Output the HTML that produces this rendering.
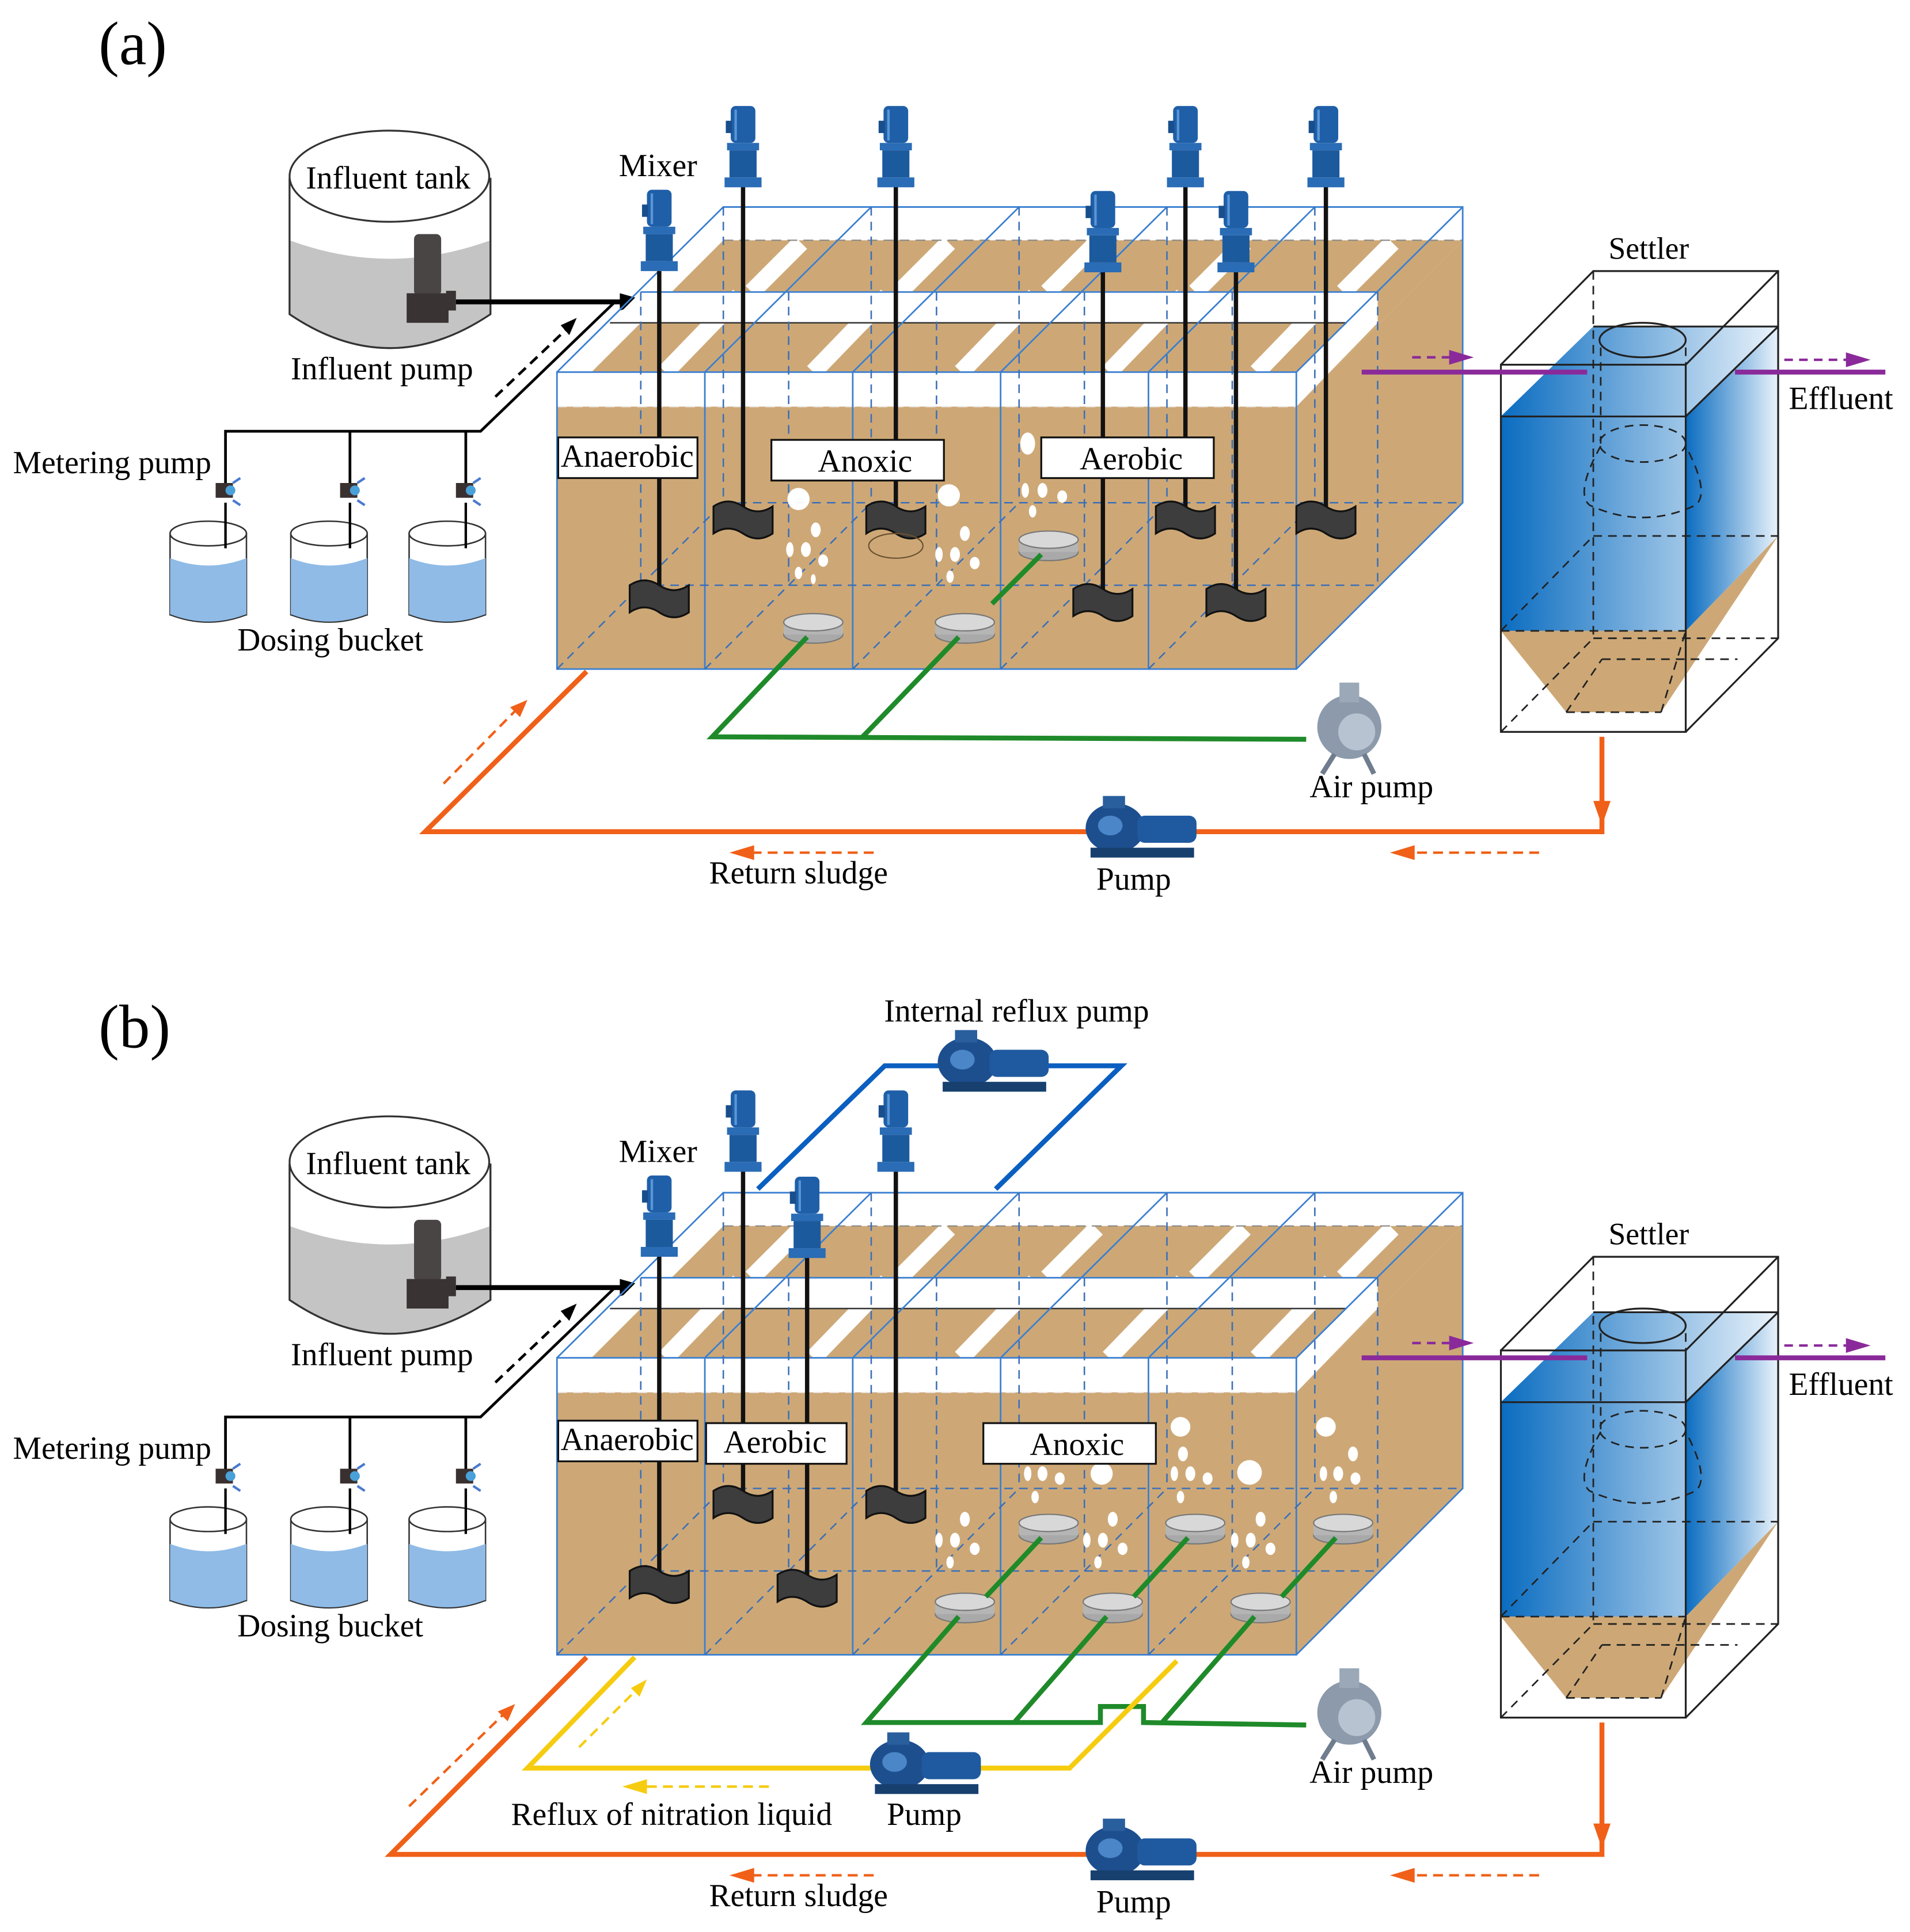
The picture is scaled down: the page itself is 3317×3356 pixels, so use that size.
<!DOCTYPE html>
<html><head><meta charset="utf-8"><style>html,body{margin:0;padding:0;background:#fff}svg{display:block}</style></head>
<body>
<svg width="3317" height="3356" viewBox="0 0 1550 1568" preserveAspectRatio="none" xmlns="http://www.w3.org/2000/svg" font-family="Liberation Serif, serif">
<defs>
<linearGradient id="bl" x1="0" x2="1" y1="0" y2="0"><stop offset="0" stop-color="#0a6cc0"/><stop offset="1" stop-color="#eaf3fb"/></linearGradient>
<g id="motor">
<rect x="-10" y="0" width="20" height="30" rx="4" fill="#1f5fa8"/>
<rect x="-14" y="12" width="5" height="10" fill="#184e8c"/>
<rect x="-13" y="30" width="26" height="6" fill="#2a6cb5"/>
<rect x="-11" y="36" width="22" height="22" fill="#1c5a9e"/>
<rect x="-15" y="58" width="30" height="8" fill="#2a6cb5"/>
<line x1="-6" y1="3" x2="-6" y2="28" stroke="#5a96d6" stroke-width="2"/>
</g>
<path id="pad" d="M-24,-12 Q-12,-20 0,-12 Q12,-4 24,-12 L24,10 Q12,18 0,10 Q-12,2 -24,10 Z" fill="#3d3d3d" stroke="#111" stroke-width="1.5"/>
<g id="diff"><ellipse cx="0" cy="10" rx="24" ry="7" fill="#a9a9a9" stroke="#777"/><rect x="-24" y="0" width="48" height="10" fill="#b5b5b5"/><ellipse cx="0" cy="0" rx="24" ry="7" fill="#d8d8d8" stroke="#777"/></g>
<g id="pump">
<ellipse cx="0" cy="0" rx="24" ry="20" fill="#1d4f8f"/>
<rect x="-10" y="-26" width="18" height="10" fill="#2a5f9e"/>
<rect x="18" y="-10" width="48" height="22" rx="6" fill="#1f5aa0"/>
<rect x="-20" y="16" width="84" height="8" fill="#17406f"/>
<ellipse cx="-4" cy="-2" rx="10" ry="8" fill="#4a86c8"/>
</g>
<g id="air">
<circle cx="0" cy="0" r="26" fill="#8c9aab"/><circle cx="6" cy="4" r="15" fill="#b7c3d0"/><rect x="-8" y="-36" width="16" height="16" fill="#9aa8b8"/><path d="M-12,22 L-22,38 M12,22 L20,38" stroke="#6f7d8e" stroke-width="4"/>
</g>
<g id="meter"><rect x="-8" y="-8" width="14" height="12" fill="#3a3030"/><circle cx="4" cy="-2" r="4" fill="#4aa0d8"/><path d="M6,-8 l6,-4 M6,6 l6,4" stroke="#4a7ad0" stroke-width="2"/></g>
<g id="bucket"><rect x="-31" y="0" width="62" height="66" fill="#fff" stroke="#333" stroke-width="1.2"/><path d="M-31,20 Q0,32 31,20 L31,66 Q0,78 -31,66 Z" fill="#8fbbe6"/><ellipse cx="0" cy="0" rx="31" ry="10" fill="#fff" stroke="#333" stroke-width="1.2"/><path d="M-31,66 Q0,78 31,66" fill="none" stroke="#333"/></g>
<g id="common">
<path d="M235,145 L235,255 Q316,310 398,255 L398,145 Z" fill="#fff" stroke="#333" stroke-width="1.5"/>
<path d="M235,195 Q316,225 398,195 L398,255 Q316,310 235,255 Z" fill="#c4c4c4"/>
<path d="M235,145 L235,255 Q316,310 398,255 L398,145" fill="none" stroke="#333" stroke-width="1.5"/>
<ellipse cx="316" cy="143" rx="81" ry="37" fill="#fff" stroke="#333" stroke-width="1.5"/>
<text x="315" y="153" font-size="26" text-anchor="middle">Influent tank</text>
<rect x="336" y="190" width="22" height="50" rx="4" fill="#4a4545"/><rect x="330" y="238" width="34" height="24" fill="#3a3333"/><rect x="362" y="236" width="8" height="16" fill="#3a3333"/>
<line x1="370" y1="245" x2="505" y2="245" stroke="#000" stroke-width="4"/><path d="M503,238 L528,245 L503,252 Z"/>
<text x="310" y="308" font-size="26" text-anchor="middle">Influent pump</text>
<path d="M183,400 L183,350 L390,350 L498,246" fill="none" stroke="#000" stroke-width="2.2"/>
<line x1="284" y1="350" x2="284" y2="400" stroke="#000" stroke-width="2.2"/><line x1="378" y1="350" x2="378" y2="400" stroke="#000" stroke-width="2.2"/>
<path d="M402,322 L462,265" stroke="#000" stroke-width="2.2" stroke-dasharray="8,5"/><path d="M455,264 L468,258 L462,272 Z"/>
<use href="#meter" x="183" y="400"/><use href="#meter" x="284" y="400"/><use href="#meter" x="378" y="400"/>
<use href="#bucket" x="169" y="433"/><use href="#bucket" x="267" y="433"/><use href="#bucket" x="363" y="433"/>
<line x1="183" y1="408" x2="183" y2="445" stroke="#000" stroke-width="2"/><line x1="284" y1="408" x2="284" y2="445" stroke="#000" stroke-width="2"/><line x1="378" y1="408" x2="378" y2="445" stroke="#000" stroke-width="2"/>
<text x="91" y="384" font-size="26" text-anchor="middle">Metering pump</text>
<text x="268" y="528" font-size="26" text-anchor="middle">Dosing bucket</text>
<text x="534" y="143" font-size="26" text-anchor="middle">Mixer</text>
<polygon points="452,330 1052,330 1187,195 587,195" fill="#cda876"/>
<polygon points="1052,330 1187,195 1187,408 1052,543" fill="#cda876"/>
<rect x="452" y="330" width="600" height="213" fill="#cda876"/>
<polygon points="452,302 1052,302 1052,330 452,330" fill="#fff"/>
<polygon points="1052,302 1118,237 1118,262 1052,330" fill="#fff"/>
<polygon points="520,237 1118,237 1093,262 495,262" fill="#fff"/>
<g stroke="#fff" stroke-width="14"><line x1="540" y1="302" x2="600" y2="240"/><line x1="660" y1="302" x2="720" y2="240"/><line x1="780" y1="302" x2="840" y2="240"/><line x1="900" y1="302" x2="960" y2="240"/><line x1="1020" y1="302" x2="1080" y2="240"/>
<line x1="610" y1="237" x2="650" y2="197"/><line x1="730" y1="237" x2="770" y2="197"/><line x1="850" y1="237" x2="890" y2="197"/><line x1="970" y1="237" x2="1010" y2="197"/><line x1="1090" y1="237" x2="1130" y2="197"/></g>
<line x1="587" y1="195" x2="1187" y2="195" stroke="#888" stroke-dasharray="8,5"/>
<line x1="452" y1="330" x2="1052" y2="330" stroke="#eee" stroke-dasharray="8,5"/>
<line x1="495" y1="262" x2="1093" y2="262" stroke="#333" stroke-width="1.2"/>
<g fill="none" stroke="#3b7fd0" stroke-width="1.3">
<rect x="452" y="302" width="600" height="241"/>
<polyline points="452,302 587,168 1187,168 1187,408 1052,543"/>
<line x1="1052" y1="302" x2="1187" y2="168"/>
<line x1="520" y1="237" x2="1118" y2="237"/>
<line x1="572" y1="302" x2="572" y2="543"/><line x1="692" y1="302" x2="692" y2="543"/><line x1="812" y1="302" x2="812" y2="543"/><line x1="932" y1="302" x2="932" y2="543"/>
<line x1="572" y1="302" x2="707" y2="168"/><line x1="692" y1="302" x2="827" y2="168"/><line x1="812" y1="302" x2="947" y2="168"/><line x1="932" y1="302" x2="1067" y2="168"/>
</g>
<g fill="none" stroke="#3b6fb8" stroke-width="1.2" stroke-dasharray="7,5">
<line x1="587" y1="168" x2="587" y2="408"/><line x1="707" y1="168" x2="707" y2="408"/><line x1="827" y1="168" x2="827" y2="408"/><line x1="947" y1="168" x2="947" y2="408"/><line x1="1067" y1="168" x2="1067" y2="408"/>
<line x1="520" y1="237" x2="520" y2="475"/><line x1="640" y1="237" x2="640" y2="475"/><line x1="760" y1="237" x2="760" y2="475"/><line x1="880" y1="237" x2="880" y2="475"/><line x1="1000" y1="237" x2="1000" y2="475"/><line x1="1118" y1="237" x2="1118" y2="475"/>
<line x1="587" y1="408" x2="1187" y2="408"/><line x1="520" y1="475" x2="1118" y2="475"/>
<line x1="452" y1="543" x2="587" y2="408"/><line x1="572" y1="543" x2="707" y2="408"/><line x1="692" y1="543" x2="827" y2="408"/><line x1="812" y1="543" x2="947" y2="408"/><line x1="932" y1="543" x2="1067" y2="408"/>
</g>
<polygon points="1218,338 1293,265 1443,265 1443,435 1368,512 1218,512" fill="url(#bl)"/>
<polygon points="1293,265 1443,265 1368,338 1218,338" fill="url(#bl)" opacity="0.9"/>
<polygon points="1368,338 1443,265 1443,435 1368,512" fill="url(#bl)"/>
<polygon points="1218,512 1368,512 1443,435 1348,578 1271,578" fill="#cda876"/>
<g fill="none" stroke="#222" stroke-width="1.5">
<rect x="1218" y="296" width="150" height="298"/>
<polyline points="1218,296 1293,220 1443,220 1443,518 1368,594"/>
<line x1="1368" y1="296" x2="1443" y2="220"/>
<line x1="1218" y1="338" x2="1368" y2="338"/><line x1="1368" y1="338" x2="1443" y2="265"/><line x1="1293" y1="265" x2="1443" y2="265"/>
<ellipse cx="1333" cy="276" rx="35" ry="14"/>
</g>
<g fill="none" stroke="#222" stroke-width="1.3" stroke-dasharray="7,5">
<line x1="1293" y1="220" x2="1293" y2="518"/><line x1="1293" y1="518" x2="1443" y2="518"/><line x1="1218" y1="594" x2="1293" y2="518"/>
<line x1="1293" y1="435" x2="1443" y2="435"/><line x1="1218" y1="512" x2="1293" y2="435"/>
<line x1="1218" y1="512" x2="1368" y2="512"/><line x1="1271" y1="578" x2="1348" y2="578"/>
<path d="M1299,282 L1299,360 M1368,282 L1368,360"/>
<ellipse cx="1333" cy="360" rx="35" ry="15"/>
<path d="M1299,362 Q1278,400 1290,410 Q1333,430 1376,410 Q1388,400 1368,362"/>
<line x1="1271" y1="578" x2="1300" y2="535"/><line x1="1300" y1="535" x2="1410" y2="535"/><line x1="1348" y1="578" x2="1368" y2="512"/>
</g>
<text x="1338" y="210" font-size="25" text-anchor="middle">Settler</text>
<line x1="1105" y1="302" x2="1288" y2="302" stroke="#8a2a9a" stroke-width="4"/>
<path d="M1146,290 L1180,290" stroke="#8a2a9a" stroke-width="2" stroke-dasharray="7,5"/><path d="M1176,284 L1196,290 L1176,296 Z" fill="#8a2a9a"/>
<line x1="1408" y1="302" x2="1530" y2="302" stroke="#8a2a9a" stroke-width="4"/>
<path d="M1448,292 L1500,292" stroke="#8a2a9a" stroke-width="2" stroke-dasharray="7,5"/><path d="M1498,286 L1518,292 L1498,298 Z" fill="#8a2a9a"/>
<text x="1494" y="332" font-size="26" text-anchor="middle">Effluent</text>
</g>
</defs>

<text x="80" y="52" font-size="50">(a)</text>
<text x="80" y="850" font-size="50">(b)</text>

<use href="#common"/>
<g stroke="#111" stroke-width="3.5">
<line x1="535" y1="220" x2="535" y2="480"/><line x1="603" y1="150" x2="603" y2="415"/><line x1="727" y1="150" x2="727" y2="415"/><line x1="895" y1="220" x2="895" y2="485"/><line x1="962" y1="150" x2="962" y2="415"/><line x1="1003" y1="220" x2="1003" y2="485"/><line x1="1076" y1="150" x2="1076" y2="415"/>
</g>
<use href="#motor" x="535" y="154"/><use href="#motor" x="603" y="86"/><use href="#motor" x="727" y="86"/><use href="#motor" x="895" y="155"/><use href="#motor" x="962" y="86"/><use href="#motor" x="1003" y="155"/><use href="#motor" x="1076" y="86"/>
<use href="#pad" x="535" y="487"/><use href="#pad" x="603" y="423"/><use href="#pad" x="727" y="423"/><use href="#pad" x="895" y="490"/><use href="#pad" x="962" y="423"/><use href="#pad" x="1003" y="490"/><use href="#pad" x="1076" y="423"/>
<ellipse cx="727" cy="443" rx="22" ry="10" fill="none" stroke="#6a5030"/>
<g fill="#fff"><circle cx="648" cy="405" r="9"/><circle cx="770" cy="402" r="9"/><ellipse cx="834" cy="360" rx="6" ry="9"/>
<ellipse cx="662" cy="430" rx="4" ry="6"/><ellipse cx="641" cy="446" rx="3" ry="6"/><ellipse cx="654" cy="446" rx="4" ry="6"/><ellipse cx="668" cy="455" rx="4" ry="5"/><ellipse cx="648" cy="465" rx="3" ry="5"/><ellipse cx="660" cy="470" rx="2" ry="4"/>
<ellipse cx="783" cy="433" rx="4" ry="6"/><ellipse cx="762" cy="450" rx="3" ry="6"/><ellipse cx="775" cy="450" rx="4" ry="6"/><ellipse cx="791" cy="457" rx="4" ry="5"/><ellipse cx="771" cy="468" rx="3" ry="5"/>
<ellipse cx="832" cy="398" rx="3" ry="6"/><ellipse cx="846" cy="398" rx="4" ry="6"/><ellipse cx="862" cy="403" rx="4" ry="5"/><ellipse cx="838" cy="415" rx="3" ry="5"/></g>
<use href="#diff" x="660" y="505"/><use href="#diff" x="783" y="505"/><use href="#diff" x="851" y="438"/>
<g fill="none" stroke="#1f8a2a" stroke-width="4">
<polyline points="655,517 578,598 1060,600"/><line x1="778" y1="517" x2="700" y2="598"/><line x1="845" y1="450" x2="805" y2="490"/>
</g>
<use href="#air" x="1095" y="590"/>
<text x="1113" y="647" font-size="26" text-anchor="middle">Air pump</text>
<g fill="none" stroke="#f06018" stroke-width="4"><polyline points="476,545 345,675 1300,675 1300,598"/></g>
<path d="M1293,650 L1300,670 L1307,650 Z" fill="#f06018"/>
<path d="M360,636 L420,575" stroke="#f06018" stroke-width="2" stroke-dasharray="8,5"/><path d="M414,574 L428,568 L422,582 Z" fill="#f06018"/>
<path d="M610,692 L712,692" stroke="#f06018" stroke-width="2" stroke-dasharray="8,5"/><path d="M612,686 L592,692 L612,698 Z" fill="#f06018"/>
<path d="M1150,692 L1250,692" stroke="#f06018" stroke-width="2" stroke-dasharray="8,5"/><path d="M1148,686 L1128,692 L1148,698 Z" fill="#f06018"/>
<use href="#pump" x="905" y="672"/>
<text x="648" y="717" font-size="26" text-anchor="middle">Return sludge</text>
<text x="920" y="722" font-size="26" text-anchor="middle">Pump</text>
<g font-size="26" text-anchor="middle">
<rect x="453" y="355" width="113" height="33" fill="#fff" stroke="#111" stroke-width="1.5"/><text x="509" y="379" textLength="108" lengthAdjust="spacingAndGlyphs">Anaerobic</text>
<rect x="626" y="357" width="140" height="33" fill="#fff" stroke="#111" stroke-width="1.5"/><text x="702" y="383">Anoxic</text>
<rect x="845" y="355" width="140" height="33" fill="#fff" stroke="#111" stroke-width="1.5"/><text x="918" y="381">Aerobic</text>
</g>

<use href="#common" y="800"/>
<g fill="none" stroke="#0a5fc0" stroke-width="4"><polyline points="615,965 718,865 910,865 808,965"/></g>
<use href="#pump" x="785" y="862"/>
<text x="825" y="829" font-size="26" text-anchor="middle">Internal reflux pump</text>
<g stroke="#111" stroke-width="3.5">
<line x1="535" y1="1018" x2="535" y2="1280"/><line x1="603" y1="950" x2="603" y2="1215"/><line x1="655" y1="1020" x2="655" y2="1285"/><line x1="727" y1="950" x2="727" y2="1215"/>
</g>
<use href="#motor" x="535" y="954"/><use href="#motor" x="603" y="885"/><use href="#motor" x="655" y="955"/><use href="#motor" x="727" y="885"/>
<use href="#pad" x="535" y="1287"/><use href="#pad" x="603" y="1222"/><use href="#pad" x="655" y="1290"/><use href="#pad" x="727" y="1222"/>
<g fill="#fff">
<circle cx="958" cy="1158" r="8"/><circle cx="1076" cy="1158" r="8"/><circle cx="894" cy="1196" r="9"/><circle cx="1014" cy="1195" r="10"/>
<ellipse cx="834" cy="1196" rx="3" ry="6"/><ellipse cx="846" cy="1196" rx="4" ry="6"/><ellipse cx="860" cy="1200" rx="4" ry="5"/><ellipse cx="840" cy="1215" rx="3" ry="5"/>
<ellipse cx="960" cy="1180" rx="4" ry="6"/><ellipse cx="953" cy="1196" rx="3" ry="6"/><ellipse cx="966" cy="1196" rx="4" ry="6"/><ellipse cx="980" cy="1200" rx="4" ry="5"/><ellipse cx="958" cy="1215" rx="3" ry="5"/>
<ellipse cx="1098" cy="1180" rx="4" ry="6"/><ellipse cx="1074" cy="1196" rx="3" ry="6"/><ellipse cx="1086" cy="1196" rx="4" ry="6"/><ellipse cx="1100" cy="1200" rx="4" ry="5"/><ellipse cx="1082" cy="1215" rx="3" ry="5"/>
<ellipse cx="783" cy="1233" rx="4" ry="6"/><ellipse cx="762" cy="1250" rx="3" ry="6"/><ellipse cx="775" cy="1250" rx="4" ry="6"/><ellipse cx="791" cy="1257" rx="4" ry="5"/><ellipse cx="771" cy="1268" rx="3" ry="5"/>
<ellipse cx="903" cy="1233" rx="4" ry="6"/><ellipse cx="882" cy="1250" rx="3" ry="6"/><ellipse cx="895" cy="1250" rx="4" ry="6"/><ellipse cx="911" cy="1257" rx="4" ry="5"/><ellipse cx="891" cy="1268" rx="3" ry="5"/>
<ellipse cx="1023" cy="1233" rx="4" ry="6"/><ellipse cx="1002" cy="1250" rx="3" ry="6"/><ellipse cx="1015" cy="1250" rx="4" ry="6"/><ellipse cx="1031" cy="1257" rx="4" ry="5"/><ellipse cx="1011" cy="1268" rx="3" ry="5"/>
</g>
<use href="#diff" x="783" y="1300"/><use href="#diff" x="903" y="1300"/><use href="#diff" x="1023" y="1300"/>
<use href="#diff" x="851" y="1236"/><use href="#diff" x="970" y="1236"/><use href="#diff" x="1090" y="1236"/>
<g fill="none" stroke="#1f8a2a" stroke-width="4">
<polyline points="778,1312 703,1398 893,1398 893,1385 928,1385 928,1398 1060,1400"/>
<line x1="898" y1="1312" x2="823" y2="1398"/><line x1="1018" y1="1312" x2="943" y2="1398"/>
<line x1="845" y1="1248" x2="800" y2="1296"/><line x1="964" y1="1248" x2="920" y2="1296"/><line x1="1084" y1="1248" x2="1040" y2="1296"/>
</g>
<use href="#air" x="1095" y="1390"/>
<text x="1113" y="1447" font-size="26" text-anchor="middle">Air pump</text>
<g fill="none" stroke="#f5cc10" stroke-width="4"><polyline points="515,1345 428,1435 868,1435 955,1348"/></g>
<path d="M470,1418 L518,1370" stroke="#f5cc10" stroke-width="2" stroke-dasharray="8,5"/><path d="M512,1370 L525,1363 L519,1377 Z" fill="#f5cc10"/>
<path d="M525,1450 L625,1450" stroke="#f5cc10" stroke-width="2" stroke-dasharray="8,5"/><path d="M525,1444 L505,1450 L525,1456 Z" fill="#f5cc10"/>
<use href="#pump" x="730" y="1432"/>
<text x="545" y="1481" font-size="26" text-anchor="middle">Reflux of nitration liquid</text>
<text x="750" y="1481" font-size="26" text-anchor="middle">Pump</text>
<g fill="none" stroke="#f06018" stroke-width="4"><polyline points="476,1345 317,1505 1300,1505 1300,1398"/></g>
<path d="M1293,1480 L1300,1500 L1307,1480 Z" fill="#f06018"/>
<path d="M332,1466 L410,1390" stroke="#f06018" stroke-width="2" stroke-dasharray="8,5"/><path d="M404,1389 L418,1383 L412,1397 Z" fill="#f06018"/>
<path d="M610,1522 L712,1522" stroke="#f06018" stroke-width="2" stroke-dasharray="8,5"/><path d="M612,1516 L592,1522 L612,1528 Z" fill="#f06018"/>
<path d="M1150,1522 L1250,1522" stroke="#f06018" stroke-width="2" stroke-dasharray="8,5"/><path d="M1148,1516 L1128,1522 L1148,1528 Z" fill="#f06018"/>
<use href="#pump" x="905" y="1502"/>
<text x="648" y="1547" font-size="26" text-anchor="middle">Return sludge</text>
<text x="920" y="1552" font-size="26" text-anchor="middle">Pump</text>
<g font-size="26" text-anchor="middle">
<rect x="453" y="1153" width="113" height="33" fill="#fff" stroke="#111" stroke-width="1.5"/><text x="509" y="1177" textLength="108" lengthAdjust="spacingAndGlyphs">Anaerobic</text>
<rect x="573" y="1155" width="114" height="33" fill="#fff" stroke="#111" stroke-width="1.5"/><text x="629" y="1179">Aerobic</text>
<rect x="798" y="1155" width="140" height="33" fill="#fff" stroke="#111" stroke-width="1.5"/><text x="874" y="1181">Anoxic</text>
</g>
</svg>
</body></html>
